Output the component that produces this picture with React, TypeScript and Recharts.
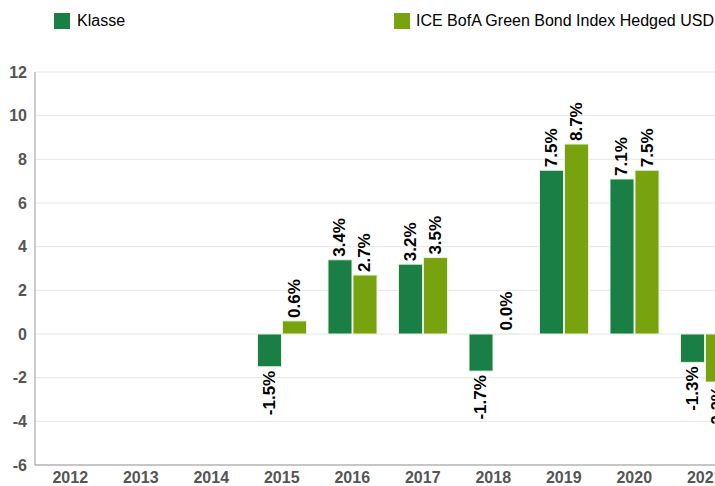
import React from 'react';
import { BarChart, Bar, XAxis, YAxis, CartesianGrid, LabelList, Legend } from 'recharts';

const years = ['2012', '2013', '2014', '2015', '2016', '2017', '2018', '2019', '2020', '2021'];
const klasse: (number | null)[] = [null, null, null, -1.5, 3.4, 3.2, -1.7, 7.5, 7.1, -1.3];
const index: (number | null)[] = [null, null, null, 0.6, 2.7, 3.5, 0.0, 8.7, 7.5, -2.2];
const yTicks = [-6, -4, -2, 0, 2, 4, 6, 8, 10, 12];

const seriesNames = ['Klasse', 'ICE BofA Green Bond Index Hedged USD'];
const colors = ['#1a7f45', '#78a30e'];

const data = years.map((y, i) => ({ year: y, klasse: klasse[i], index: index[i] }));

const FONT = 'Arial, "Liberation Sans", sans-serif';

const renderLabel = (props: any) => {
  const { x, y, width, height, value } = props;
  if (value === null || value === undefined) return null;
  const cx = Number(x) + Number(width) / 2;
  const top = Math.min(Number(y), Number(y) + Number(height));
  const bottom = Math.max(Number(y), Number(y) + Number(height));
  const text = `${Number(value).toFixed(1)}%`;
  if (value >= 0) {
    const ty = top - 3;
    return (
      <text x={cx} y={ty} transform={`rotate(-90 ${cx} ${ty})`} textAnchor="start" dominantBaseline="central"
        fontFamily={FONT} fontWeight="bold" fontSize={17} fill="#000">{text}</text>
    );
  }
  const ty = bottom + 4;
  return (
    <text x={cx} y={ty} transform={`rotate(-90 ${cx} ${ty})`} textAnchor="end" dominantBaseline="central"
      fontFamily={FONT} fontWeight="bold" fontSize={17} fill="#000">{text}</text>
  );
};

const renderLegend = () => (
  <div style={{ position: 'relative', width: 715, height: 40, fontFamily: FONT, fontSize: 16, color: '#000' }}>
    <div style={{ position: 'absolute', left: 54, top: 13, width: 16, height: 16, background: colors[0] }} />
    <div style={{ position: 'absolute', left: 77, top: 12, lineHeight: '18px' }}>{seriesNames[0]}</div>
    <div style={{ position: 'absolute', left: 394, top: 13, width: 16, height: 16, background: colors[1] }} />
    <div style={{ position: 'absolute', left: 416, top: 12, lineHeight: '18px', whiteSpace: 'nowrap' }}>{seriesNames[1]}</div>
  </div>
);

const zeroMin = (value: any) => (value === 0 ? 0.5 : 0);

export default function App() {
  return (
    <div style={{ position: 'fixed', left: 0, top: 0, width: 715, height: 486, overflow: 'hidden', background: '#fff' }}>
      <BarChart width={745} height={486} data={data} margin={{ top: 32, right: 5, bottom: 0, left: 0 }}
        barCategoryGap={11} barGap={1}>
        <CartesianGrid vertical={false} stroke="#e6e6e6" />
        <XAxis dataKey="year" axisLine={{ stroke: '#999' }} tickLine={false} height={21}
          tick={{ fill: '#555', fontSize: 16, fontWeight: 'bold', fontFamily: FONT }} interval={0} tickMargin={1} />
        <YAxis domain={[-6, 12]} ticks={yTicks} width={35} axisLine={{ stroke: '#999' }} tickLine={false}
          tick={{ fill: '#555', fontSize: 16, fontWeight: 'bold', fontFamily: FONT }} interval={0} tickMargin={2} />
        <Legend verticalAlign="top" align="left" content={renderLegend} height={40}
          wrapperStyle={{ position: 'absolute', top: 0, left: 0, width: 715, height: 40 }} />
        <Bar dataKey="klasse" name={seriesNames[0]} fill={colors[0]} stroke="#e8f0e0" strokeWidth={1}
          minPointSize={zeroMin} isAnimationActive={false}>
          <LabelList dataKey="klasse" content={renderLabel} />
        </Bar>
        <Bar dataKey="index" name={seriesNames[1]} fill={colors[1]} stroke="#e8f0e0" strokeWidth={1}
          minPointSize={zeroMin} isAnimationActive={false}>
          <LabelList dataKey="index" content={renderLabel} />
        </Bar>
      </BarChart>
    </div>
  );
}
